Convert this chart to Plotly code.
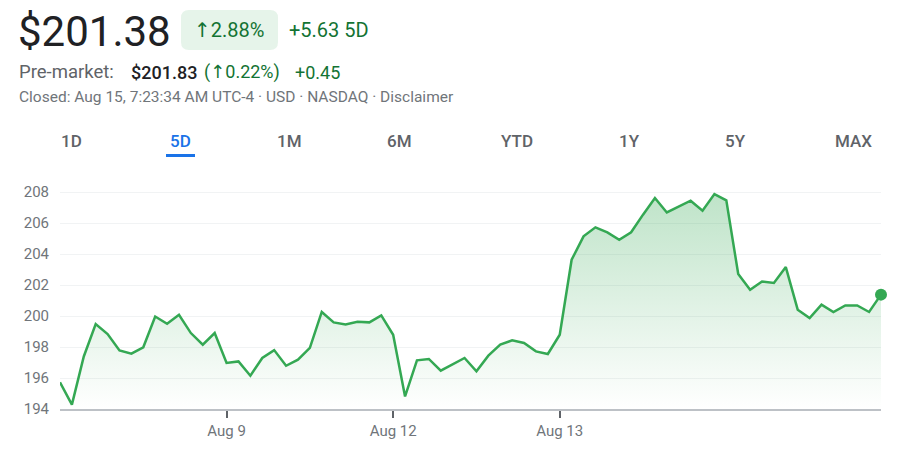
import plotly.graph_objects as go

# ---- data ----
day_labels = ["Aug 8", "Aug 9", "Aug 12", "Aug 13", "Aug 14"]
points_per_day = 14
prices = [
    195.72, 194.28, 197.39, 199.48, 198.84, 197.78, 197.57, 197.98, 199.97, 199.50,
    200.08, 198.90, 198.15, 198.90,
    196.97, 197.07, 196.15, 197.29, 197.80, 196.79, 197.18, 197.94, 200.26, 199.59,
    199.46, 199.63, 199.59, 200.04,
    198.79, 194.81, 197.14, 197.23, 196.47, 196.86, 197.29, 196.43, 197.44, 198.15,
    198.43, 198.26, 197.72, 197.55,
    198.79, 203.63, 205.14, 205.72, 205.40, 204.92, 205.40, 206.54, 207.61, 206.68,
    207.07, 207.44, 206.79, 207.87,
    207.46, 202.71, 201.70, 202.23, 202.13, 203.16, 200.41, 199.87, 200.73, 200.26,
    200.68, 200.68, 200.26, 201.38,
]
y_ticks = [194, 196, 198, 200, 202, 204, 206, 208]
shown_days = ["Aug 9", "Aug 12", "Aug 13"]
tabs = ["1D", "5D", "1M", "6M", "YTD", "1Y", "5Y", "MAX"]
tab_centers = [71, 180, 289, 399, 517, 629, 735, 853]

x_idx = list(range(len(prices)))
tick_pos = [day_labels.index(d) * points_per_day for d in shown_days]

W, H = 903, 452
L, R, T, B = 60, 22, 188, 43
PW, PH = W - L - R, H - T - B

def px(x):
    return (x - L) / PW

def py(y):
    return (H - B - y) / PH

GREEN = "#34a853"
DARK_GREEN = "#137333"
ARROW = "<span style='font-family:DejaVu Sans'>↑</span>"

fig = go.Figure()
fig.add_trace(go.Scatter(
    x=x_idx, y=prices, mode="lines",
    line=dict(color=GREEN, width=2.5),
    fill="tozeroy",
    fillgradient=dict(type="vertical", start=194, stop=208,
                      colorscale=[[0, "rgba(52,168,83,0)"], [1, "rgba(52,168,83,0.32)"]]),
    hoverinfo="skip", showlegend=False,
))
fig.add_trace(go.Scatter(
    x=[x_idx[-1]], y=[prices[-1]], mode="markers",
    marker=dict(color=GREEN, size=12),
    hoverinfo="skip", showlegend=False, cliponaxis=False,
))

annotations = []
def txt(s, x, y, size, color, anchor="left", weight=None):
    font = dict(family="Roboto", size=size, color=color)
    if weight:
        font["weight"] = weight
    annotations.append(dict(text=s, x=px(x), y=py(y), xref="paper", yref="paper",
                            xanchor=anchor, yanchor="middle", showarrow=False, font=font))

txt("$201.38", 16, 31, 42, "#202124")
txt(ARROW + "2.88%", 192, 30, 20, DARK_GREEN)
txt("+5.63 5D", 287, 30, 20, DARK_GREEN)
txt("Pre-market:", 17, 72, 18.5, "#5f6368")
txt("$201.83", 129, 72, 18, "#202124", weight=500)
txt("(" + ARROW + "0.22%)", 202, 72, 18, DARK_GREEN)
txt("+0.45", 293, 72, 18, DARK_GREEN)
txt("Closed: Aug 15, 7:23:34 AM UTC-4 · USD · NASDAQ · Disclaimer", 17, 97, 15.5, "#70757a")
for t, c in zip(tabs, tab_centers):
    txt(t, c, 141, 17, "#1a73e8" if t == "5D" else "#5f6368", anchor="center", weight=500)

def rounded_rect(x0, y0, x1, y1, r):
    X = lambda v: px(v)
    Y = lambda v: py(v)
    return (f"M {X(x0 + r)} {Y(y0)} L {X(x1 - r)} {Y(y0)} Q {X(x1)} {Y(y0)} {X(x1)} {Y(y0 + r)} "
            f"L {X(x1)} {Y(y1 - r)} Q {X(x1)} {Y(y1)} {X(x1 - r)} {Y(y1)} "
            f"L {X(x0 + r)} {Y(y1)} Q {X(x0)} {Y(y1)} {X(x0)} {Y(y1 - r)} "
            f"L {X(x0)} {Y(y0 + r)} Q {X(x0)} {Y(y0)} {X(x0 + r)} {Y(y0)} Z")

shapes = [
    dict(type="path", xref="paper", yref="paper", path=rounded_rect(181, 10, 278, 50, 8),
         fillcolor="#e6f4ea", line=dict(width=0), layer="below"),
    dict(type="rect", xref="paper", yref="paper", x0=px(166), x1=px(195), y0=py(157), y1=py(154),
         fillcolor="#1a73e8", line=dict(width=0)),
]

fig.update_layout(
    width=W, height=H,
    margin=dict(l=L, r=R, t=T, b=B),
    paper_bgcolor="white", plot_bgcolor="white",
    annotations=annotations, shapes=shapes,
    hovermode=False,
    xaxis=dict(range=[0, len(prices) - 1], tickvals=tick_pos, ticktext=shown_days,
               showgrid=False, zeroline=False, showline=True, linecolor="#bdc1c6", linewidth=2,
               ticks="outside", ticklen=7, tickwidth=2, tickcolor="#5f6368",
               tickfont=dict(family="Roboto", size=15, color="#70757a"), fixedrange=True),
    yaxis=dict(range=[194, 208.26], tickvals=y_ticks, showgrid=True, gridcolor="#f1f3f4",
               gridwidth=1, zeroline=False, showline=False, ticks="",
               ticklabelstandoff=10,
               tickfont=dict(family="Roboto", size=15, color="#70757a"), fixedrange=True),
)

fig.write_html("out.html", config={"displayModeBar": False})
